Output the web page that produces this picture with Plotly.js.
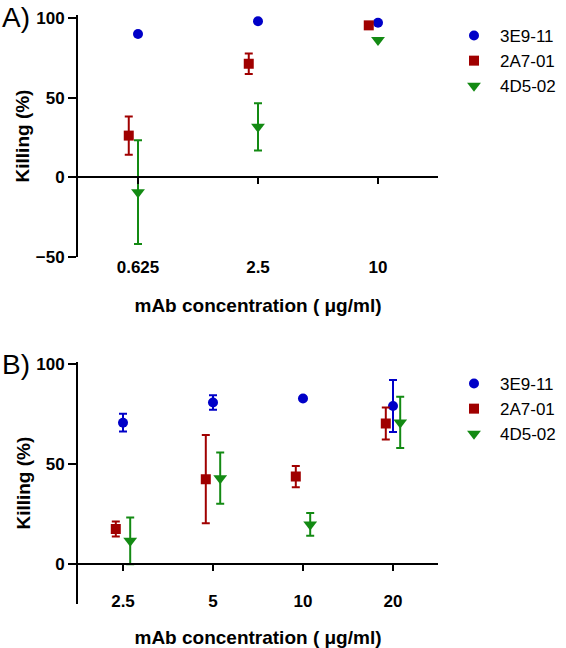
<!DOCTYPE html>
<html>
<head>
<meta charset="utf-8">
<script src="https://cdn.plot.ly/plotly-3.0.1.min.js"></script>
<style>html,body{margin:0;padding:0;background:#fff;}#chart{width:566px;height:648px;}</style>
</head>
<body>
<div id="chart"></div>
<script>
// ---------- data ----------
const seriesNames = ['3E9-11', '2A7-01', '4D5-02'];

const catsA = ['0.625', '2.5', '10'];
const a_3E9 = [90, 98, 97];
const a_3E9_err = [0, 0, 0];
const a_2A7 = [26.2, 71.3, 95.4];
const a_2A7_err = [12, 6.5, 0];
const a_4D5 = [-9.3, 31.7, 86.2];
const a_4D5_err = [32.6, 14.8, 0];

const catsB = ['2.5', '5', '10', '20'];
const b_3E9 = [70.7, 80.8, 82.8, 79];
const b_3E9_err = [4.4, 3.6, 0, 13];
const b_2A7 = [17.6, 42.5, 43.8, 70.3];
const b_2A7_err = [3.8, 22, 5.3, 8];
const b_4D5 = [11.7, 43, 19.9, 70.8];
const b_4D5_err = [11.7, 12.8, 5.7, 12.8];

// ---------- styles ----------
const colors = ['#0000c8', '#a00000', '#138a13'];
const symbols = ['circle', 'square', 'triangle-down'];
const sizes = [10, 10, 12];
const offsetsA = [0, -0.077, 0];
const offsetsB = [0, -0.08, 0.08];
const FONT = '"Liberation Sans", Arial, sans-serif';

function mk(cats, vals, errs, k, offs, xa, ya, legend) {
  return {
    type: 'scatter', mode: 'markers', name: seriesNames[k],
    x: cats.map((c, i) => i + offs[k]), y: vals,
    xaxis: xa, yaxis: ya, legend: legend,
    marker: {color: colors[k], symbol: symbols[k], size: sizes[k], line: {width: 0}},
    error_y: {type: 'data', array: errs, visible: true, color: colors[k], thickness: 2, width: 4}
  };
}
// empty helper traces so that the overlaid zero-line axes get a subplot and are drawn
function axisHolder(xa, ya) {
  return {type: 'scatter', mode: 'markers', x: [], y: [], xaxis: xa, yaxis: ya, showlegend: false, hoverinfo: 'skip'};
}

const data = [
  axisHolder('x3', 'y'),
  axisHolder('x4', 'y2'),
  mk(catsA, a_3E9, a_3E9_err, 0, offsetsA, 'x', 'y', 'legend'),
  mk(catsA, a_2A7, a_2A7_err, 1, offsetsA, 'x', 'y', 'legend'),
  mk(catsA, a_4D5, a_4D5_err, 2, offsetsA, 'x', 'y', 'legend'),
  mk(catsB, b_3E9, b_3E9_err, 0, offsetsB, 'x2', 'y2', 'legend2'),
  mk(catsB, b_2A7, b_2A7_err, 1, offsetsB, 'x2', 'y2', 'legend2'),
  mk(catsB, b_4D5, b_4D5_err, 2, offsetsB, 'x2', 'y2', 'legend2')
];

const W = 566, H = 648;
const px = v => v / W, py = v => 1 - v / H;
const xDom = [px(78), px(438)];
const domA = [py(257), py(15)];
const domB = [py(604.3), py(362)];
const rangeA = [-50, 101.9];
const rangeB = [-20, 101];
const zeroPos = (dom, r) => dom[0] + (dom[1] - dom[0]) * (0 - r[0]) / (r[1] - r[0]);

const tickFont = {family: FONT, size: 17, color: '#000', weight: 'bold'};
const titleFont = {family: FONT, size: 19, color: '#000', weight: 'bold'};

function labelAxis(cats, pos, domain) {
  return {
    domain: domain, range: [-0.5, cats.length - 0.5], anchor: 'free', position: pos,
    tickmode: 'array', tickvals: cats.map((c, i) => i), ticktext: cats,
    showline: false, ticks: '', showgrid: false, zeroline: false,
    tickfont: tickFont, fixedrange: true,
    title: {text: 'mAb concentration ( μg/ml)', font: titleFont, standoff: 22}
  };
}
function zeroAxis(cats, over, pos, domain) {
  return {
    domain: domain, overlaying: over, range: [-0.5, cats.length - 0.5], anchor: 'free', position: pos,
    tickmode: 'array', tickvals: cats.map((c, i) => i), showticklabels: false,
    showline: true, linecolor: '#000', linewidth: 2, ticks: 'outside', ticklen: 6, tickwidth: 2, tickcolor: '#000',
    showgrid: false, zeroline: false
  };
}
function yAxis(range, domain, anchor, tickvals) {
  return {
    domain: domain, range: range, anchor: anchor, tickmode: 'array', tickvals: tickvals,
    showline: true, linecolor: '#000', linewidth: 2, ticks: 'outside', ticklen: 8, tickwidth: 2, tickcolor: '#000',
    showgrid: false, zeroline: false, tickfont: tickFont,
    title: {text: 'Killing (%)', font: titleFont, standoff: 1}
  };
}

const legendBase = {
  font: {family: FONT, size: 17, color: '#000'}, bgcolor: 'rgba(0,0,0,0)',
  xanchor: 'left', yanchor: 'top', tracegroupgap: 0, itemsizing: 'trace', itemwidth: 42
};

const layout = {
  width: W, height: H, margin: {l: 0, r: 0, t: 0, b: 0},
  paper_bgcolor: '#fff', plot_bgcolor: '#fff', showlegend: true,
  xaxis: labelAxis(catsA, py(255), xDom),
  xaxis3: zeroAxis(catsA, 'x', zeroPos(domA, rangeA), xDom),
  yaxis: yAxis(rangeA, domA, 'x', [-50, 0, 50, 100]),
  xaxis2: labelAxis(catsB, py(589), xDom),
  xaxis4: zeroAxis(catsB, 'x2', zeroPos(domB, rangeB), xDom),
  yaxis2: yAxis(rangeB, domB, 'x2', [0, 50, 100]),
  legend: Object.assign({x: px(448), y: py(18)}, legendBase),
  legend2: Object.assign({x: px(448), y: py(366)}, legendBase),
  annotations: [
    {text: 'A)', xref: 'paper', yref: 'paper', x: px(0), y: py(0), xanchor: 'left', yanchor: 'top', showarrow: false, font: {family: FONT, size: 28, color: '#000'}},
    {text: 'B)', xref: 'paper', yref: 'paper', x: px(0), y: py(364), xanchor: 'left', yanchor: 'middle', showarrow: false, font: {family: FONT, size: 28, color: '#000'}}
  ]
};

Plotly.newPlot('chart', data, layout, {staticPlot: true, displayModeBar: false});
</script>
</body>
</html>
